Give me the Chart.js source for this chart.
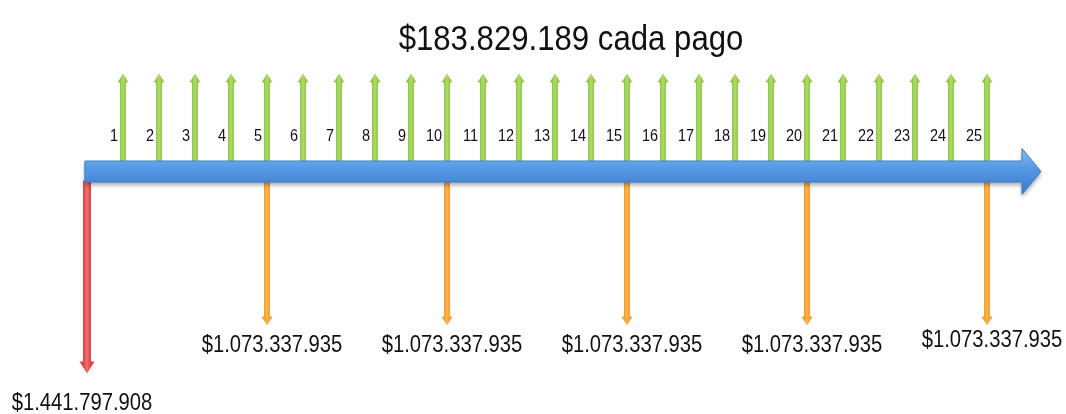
<!DOCTYPE html>
<html>
<head>
<meta charset="utf-8">
<script src="https://cdn.jsdelivr.net/npm/chart.js@4/dist/chart.umd.min.js"></script>
<style>
html,body{margin:0;padding:0;background:#fff}
</style>
</head>
<body>
<canvas id="flow" width="1066" height="414"></canvas>
<script>

let title="$183.829.189 cada pago"

let periodLabels=["1","2","3","4","5","6","7","8","9","10","11","12","13",
"14","15","16","17","18","19","20","21","22","23","24","25"]

let receiptPeriods=[1,2,3,4,5,6,7,8,9,10,11,12,13,14,15,16,17,18,19,20,21,22,23,24,25]
let receiptAmount=183829189

let paymentPeriods=[5,10,15,20,25]
let paymentAmounts=[1073337935,1073337935,1073337935,1073337935,1073337935]

let loanPeriods=[0]
let loanAmounts=[1441797908]

// arrow tip level on the (schematic) y scale, not to scale with the amounts
let tip={receipt:98,payment:-154,loan:-202}

function money(v){
return "$"+v.toString().replace(/\B(?=(\d{3})+(?!\d))/g,".")
}

// narrow text, the picture's font is a bit condensed
function text(ctx,s,x,y,size,sx){
ctx.save()
ctx.translate(x,y)
ctx.scale(sx,1)
ctx.font=size+"px 'Liberation Sans', Arial, sans-serif"
ctx.fillText(s,0,0)
ctx.restore()
}

function drawArrow(ctx,x,y0,y1,w,hw,hl,dark,light){

let dir=y1<y0?-1:1
let yb=y1-dir*hl

let g=ctx.createLinearGradient(x-w/2,0,x+w/2,0)
g.addColorStop(0,dark)
g.addColorStop(0.5,light)
g.addColorStop(1,dark)

ctx.save()
ctx.fillStyle=g
ctx.beginPath()
ctx.moveTo(x-w/2,y0)
ctx.lineTo(x-w/2,yb)
ctx.lineTo(x-hw/2,yb)
ctx.lineTo(x,y1)
ctx.lineTo(x+hw/2,yb)
ctx.lineTo(x+w/2,yb)
ctx.lineTo(x+w/2,y0)
ctx.closePath()
ctx.fill()
ctx.restore()

}

let flowPlugin={
id:"flow",
afterDatasetsDraw(chart){

let ctx=chart.ctx
let xs=chart.scales.x
let ys=chart.scales.y
let yc=ys.getPixelForValue(0)

// receipts (green, up)
chart.getDatasetMeta(0).data.forEach(p=>{
drawArrow(ctx,p.x,yc-9,p.y,6,11,9,"#8dc53f","#b2db70")
})

// payments (orange, down)
chart.getDatasetMeta(1).data.forEach(p=>{
drawArrow(ctx,p.x,yc+9,p.y,6,11,9,"#f7992b","#fbb555")
})

// loan (red, down)
chart.getDatasetMeta(2).data.forEach(p=>{
drawArrow(ctx,p.x,yc+9,p.y,8,15,12,"#e13c40","#f07170")
})

// time axis
let x0=xs.getPixelForValue(-0.06)
let xh=xs.getPixelForValue(25.97)
let xt=xs.getPixelForValue(26.5)

let g=ctx.createLinearGradient(0,yc-22,0,yc+22)
g.addColorStop(0,"#7fb9f2")
g.addColorStop(0.45,"#5497e2")
g.addColorStop(1,"#3a7ccd")

ctx.save()
ctx.shadowColor="rgba(0,0,0,0.35)"
ctx.shadowBlur=4
ctx.shadowOffsetY=3
ctx.fillStyle=g
ctx.strokeStyle="#3f7fc8"
ctx.lineWidth=1
ctx.beginPath()
ctx.moveTo(x0,yc-10.5)
ctx.lineTo(xh,yc-10.5)
ctx.lineTo(xh,yc-23)
ctx.lineTo(xt,yc)
ctx.lineTo(xh,yc+23)
ctx.lineTo(xh,yc+10.5)
ctx.lineTo(x0,yc+10.5)
ctx.closePath()
ctx.fill()
ctx.shadowColor="transparent"
ctx.stroke()
ctx.restore()

ctx.save()
ctx.fillStyle="#111"
ctx.textBaseline="middle"

// period numbers
ctx.textAlign="right"
receiptPeriods.forEach((p,i)=>{
text(ctx,periodLabels[i],xs.getPixelForValue(p)-5,yc-35,17,0.85)
})

// amounts
ctx.textAlign="center"
chart.getDatasetMeta(1).data.forEach((p,i)=>{
let dy=i==paymentPeriods.length-1?15:20
text(ctx,money(paymentAmounts[i]),p.x+5,p.y+dy,23,0.88)
})
chart.getDatasetMeta(2).data.forEach((p,i)=>{
text(ctx,money(loanAmounts[i]),p.x-5,p.y+30,23,0.88)
})

// title
text(ctx,title,571,40,35,0.89)

ctx.restore()

}
}

new Chart(document.getElementById("flow"),{
type:"scatter",
data:{
datasets:[
{label:"Pagos recibidos",data:receiptPeriods.map(p=>({x:p,y:tip.receipt}))},
{label:"Pagos",data:paymentPeriods.map(p=>({x:p,y:tip.payment}))},
{label:"Préstamo",data:loanPeriods.map(p=>({x:p,y:tip.loan}))}
]
},
options:{
responsive:false,
animation:false,
devicePixelRatio:1,
layout:{padding:0},
elements:{point:{radius:0,hoverRadius:0}},
plugins:{legend:{display:false},tooltip:{enabled:false}},
scales:{
x:{type:"linear",min:-2.417,max:27.194,display:false},
y:{type:"linear",min:-242.5,max:171.5,display:false}
}
},
plugins:[flowPlugin]
})

</script>
</body>
</html>
